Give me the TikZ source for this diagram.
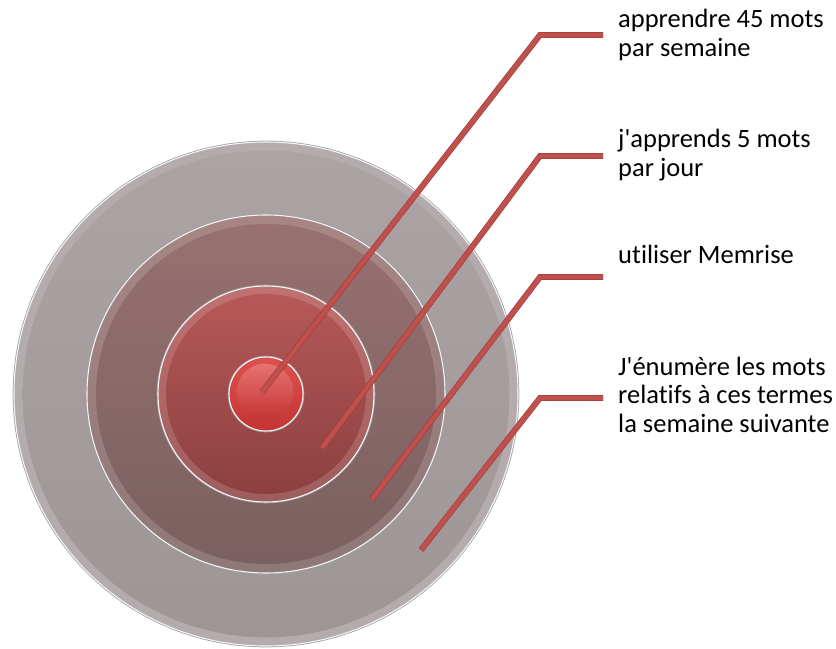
\documentclass[tikz,border=0pt]{standalone}
\usepackage{fontspec}
\setmainfont{Carlito}[Ligatures=NoCommon]
\definecolor{leadred}{RGB}{192,80,77}
\definecolor{leadedge}{RGB}{158,60,57}
\definecolor{ringa}{RGB}{170,161,161}
\definecolor{ringatop}{RGB}{172,164,164}
\definecolor{ringabot}{RGB}{158,150,150}
\definecolor{ringbtop}{RGB}{152,112,112}
\definecolor{ringbbot}{RGB}{122,96,96}
\definecolor{ringctop}{RGB}{182,88,88}
\definecolor{ringcbot}{RGB}{140,64,64}
\definecolor{ringdtop}{RGB}{222,80,78}
\definecolor{ringdbot}{RGB}{196,52,50}
\newcommand{\stacklines}[1]{\begin{tabular}[t]{@{}l@{}}#1\end{tabular}}

\begin{document}
\begin{tikzpicture}[
    x=0.03cm, y=-0.03cm,
    ring/.style={circle, inner sep=0pt, preaction={draw=gray!75, line width=2.2pt}, draw=white!92!gray, line width=0.9pt},
    face/.style={circle, inner sep=0pt},
    leader/.style={preaction={draw=leadedge, line width=5pt}, draw=leadred, line width=3.9pt, line join=miter},
    label/.style={anchor=base west, inner sep=0pt, font=\fontsize{22.6}{24.7}\selectfont}
]
\useasboundingbox (0,0) rectangle (836,649);

\coordinate (c) at (266,394);

% target rings, outer to inner
\node[ring, minimum size=15.12cm, fill=ringa!88!white] (outer) at (c) {};
\node[face, minimum size=14.6cm, top color=ringatop, bottom color=ringabot] (outerface) at (c) {};
\node[ring, minimum size=10.74cm, top color=ringbtop!85!white, bottom color=ringbbot!85!white] (second) at (c) {};
\node[face, minimum size=10.2cm, top color=ringbtop, bottom color=ringbbot] (secondface) at (c) {};
\node[ring, minimum size=6.48cm, top color=ringctop!85!white, bottom color=ringcbot!85!white] (third) at (c) {};
\node[face, minimum size=6.0cm, top color=ringctop, bottom color=ringcbot] (thirdface) at (c) {};
\node[ring, minimum size=2.22cm, top color=ringdtop, bottom color=ringdbot] (inner) at (c) {};
\node[face, minimum size=1.7cm, top color=ringdtop!80!white, bottom color=ringdbot] (innerface) at (265,392) {};

% leader ends inside the rings
\coordinate (p1) at (262,392);
\coordinate (p2) at (322,448);
\coordinate (p3) at (372,499);
\coordinate (p4) at (421,550);
\coordinate (k1) at (540,35);
\coordinate (k2) at (540,156);
\coordinate (k3) at (540,277);
\coordinate (k4) at (540,398);
\coordinate (e1) at (603,35);
\coordinate (e2) at (603,156);
\coordinate (e3) at (603,277);
\coordinate (e4) at (603,398);

\draw[leader] (p1) -- (k1) -- (e1);
\draw[leader] (p2) -- (k2) -- (e2);
\draw[leader] (p3) -- (k3) -- (e3);
\draw[leader] (p4) -- (k4) -- (e4);

\node[label] (goal) at (618,28) {\stacklines{apprendre 45 mots\\par semaine}};
\node[label] (daily) at (618,148) {\stacklines{j\textquotesingle apprends 5 mots\\par jour}};
\node[label] (tool) at (618,263) {utiliser Memrise};
\node[label] (review) at (618,375) {\stacklines{J\textquotesingle énumère les mots\\relatifs à ces termes\\la semaine suivante}};
\end{tikzpicture}
\end{document}
